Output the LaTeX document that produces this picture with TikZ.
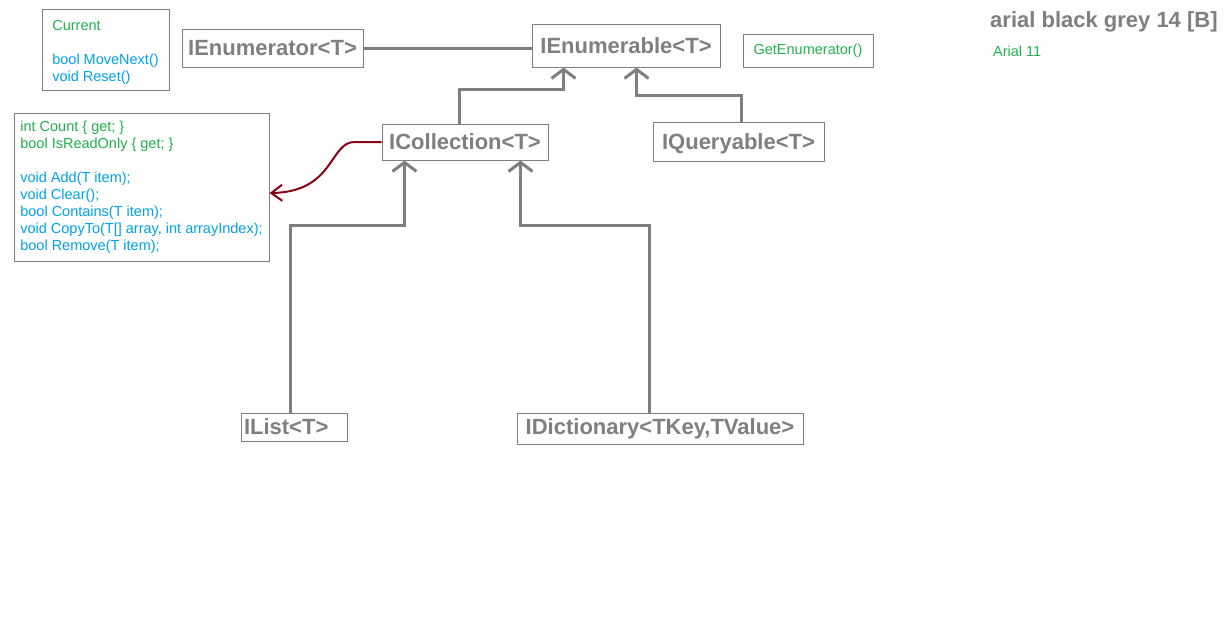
\documentclass[tikz,border=0pt]{standalone}
\usepackage{fontspec}
\setmainfont{Liberation Sans}
\usetikzlibrary{arrows.meta}
\definecolor{boxgray}{HTML}{7F7F7F}
\definecolor{txtgreen}{HTML}{22B14C}
\definecolor{txtblue}{HTML}{00A2E8}
\definecolor{darkred}{HTML}{880015}
\tikzset{
  box/.style={draw=boxgray, line width=1pt, inner sep=0pt},
  big/.style={font=\fontsize{22}{26}\selectfont\bfseries, text=boxgray},
  small/.style={font=\fontsize{14.5}{17}\selectfont},
  conn/.style={draw=boxgray, line width=3pt, -{Straight Barb[length=9pt,width=24pt]}},
  plain/.style={draw=boxgray, line width=3pt},
  redconn/.style={draw=darkred, line width=2pt, -{Straight Barb[length=11pt,width=16pt]}}
}
\begin{document}
\begin{tikzpicture}[x=1pt,y=-1pt]
\useasboundingbox (0,0) rectangle (1232,619);
\fill[white] (0,0) rectangle (1232,619);

% boxes
\node[box, small, align=left, minimum height=81pt, minimum width=127pt, text height=67pt, text depth=3pt] (current) at (105.5,49.5)
  {\textcolor{txtgreen}{Current}\\[17pt]\textcolor{txtblue}{bool MoveNext()}\\\textcolor{txtblue}{void Reset()}};
\node[box, big, minimum width=181pt, minimum height=38pt] (ienumtor) at (272.5,48) {IEnumerator<T>};
\node[box, big, minimum width=188pt, minimum height=43pt] (ienumble) at (626,45.5) {IEnumerable<T>};
\node[box, small, text=txtgreen, minimum width=130pt, minimum height=33pt] (getenum) at (808,50.5) {GetEnumerator()};
\node[box, big, minimum width=166pt, minimum height=36pt] (icoll) at (465,142) {ICollection<T>};
\node[box, big, minimum width=171pt, minimum height=39pt, text height=21pt] (iquery) at (738.5,141.5) {IQueryable<T>};
\node[box, small, align=left, minimum height=148pt, minimum width=255pt] (members) at (141.5,187)
  {\textcolor{txtgreen}{int Count \{ get; \}}\\\textcolor{txtgreen}{bool IsReadOnly \{ get; \}}\\[17pt]%
   \textcolor{txtblue}{void Add(T item);}\\\textcolor{txtblue}{void Clear();}\\\textcolor{txtblue}{bool Contains(T item);}\\%
   \textcolor{txtblue}{void CopyTo(T[] array, int arrayIndex);}\\\textcolor{txtblue}{bool Remove(T item);}};
\node[box, big, align=left, text width=100pt, inner xsep=3pt, minimum width=104pt, minimum height=28pt] (ilist) at (294,427) {IList<T>};
\node[box, big, minimum width=286pt, minimum height=31pt] (idict) at (660,428.5) {IDictionary<TKey,TValue>};

% free texts
\node[big, anchor=west, inner sep=0pt] (legendbig) at (990,22) {arial black grey 14 [B]};
\node[small, text=txtgreen, anchor=west, inner sep=0pt] (legendsmall) at (993,51) {Arial 11};

% connectors
\draw[plain] (ienumtor.east) -- (ienumtor.east -| ienumble.west);
\draw[conn] ([xshift=-6pt]icoll.north) -- ++(0,-34) -| ([xshift=32pt]ienumble.south west);
\draw[conn] ([xshift=2.5pt]iquery.north) -- ++(0,-26) -| ([xshift=105pt]ienumble.south west);
\draw[conn] ([xshift=-4pt]ilist.north) -- ++(0,-187) -| ([xshift=23pt]icoll.south west);
\draw[conn] ([xshift=-11pt]idict.north) -- ++(0,-187) -| ([xshift=139pt]icoll.south west);
\draw[redconn] (icoll.west) -- ++(-27,0) .. controls +(-25,0) and +(65,-1) .. ([yshift=-6pt]members.east);
\end{tikzpicture}
\end{document}
